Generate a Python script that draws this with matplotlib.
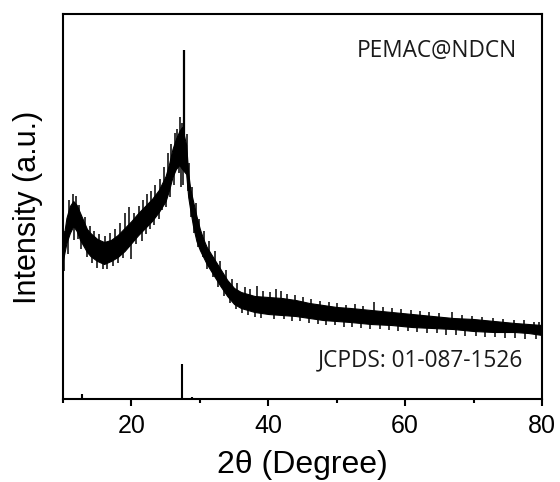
import numpy as np
import matplotlib
matplotlib.use("Agg")
import matplotlib.pyplot as plt
from matplotlib.ticker import MultipleLocator

# ---- data (intensity in arbitrary units) ----
# core of the noisy amorphous pattern (lower / upper edge)
two_theta = [10.0, 10.5, 11.0, 11.5, 12.0, 12.5, 13.0, 13.5, 14.0, 15.0, 16.0, 17.0,
             18.0, 19.0, 20.0, 21.0, 22.0, 23.0, 24.0, 25.0, 25.5, 26.0, 26.5, 27.0,
             27.4, 28.0, 28.3, 28.6, 29.0, 29.5, 30.0, 30.5, 31.0, 32.0, 33.0, 34.0,
             35.0, 36.0, 37.0, 38.0, 40.0, 42.0, 44.0, 46.0, 48.0, 50.0, 52.0, 55.0,
             58.0, 61.0, 64.0, 67.0, 70.0, 73.0, 76.0, 78.0, 80.0]
upper = [158, 181, 193, 198, 194, 186, 178, 170, 166, 160, 157, 159,
         164, 171, 178, 186, 193, 200, 209, 223, 235, 250, 260, 268,
         272, 254, 226, 210, 198, 183, 170, 160, 152, 141, 130, 119,
         111, 107, 105, 103, 102, 101, 99, 96, 94, 92, 91, 89,
         87, 85, 83, 81, 80, 78, 76, 75, 74]
lower = [139, 156, 166, 173, 168, 159, 153, 147, 143, 138, 135, 138,
         142, 148, 156, 164, 171, 178, 187, 198, 209, 222, 230, 234,
         230, 225, 202, 189, 173, 158, 149, 142, 135, 124, 113, 103,
         95, 91, 89, 87, 85, 84, 83, 81, 79, 78, 77, 75,
         74, 72, 71, 70, 68, 67, 67, 66, 64]

# noise spikes above the core (position, tip)
up_pos = [10.2, 10.9, 11.4, 11.9, 12.4, 13.2, 13.9, 14.6, 15.3, 16.2, 16.9, 17.6,
          18.4, 19.1, 19.7, 20.4, 21.1, 21.7, 22.3, 22.9, 23.5, 24.2, 24.8, 25.4,
          25.8, 26.3, 26.7, 27.1, 27.35, 28.05, 28.4, 28.9, 29.4, 29.9, 30.6, 31.3,
          32.2, 33.0, 33.8, 34.7, 35.5, 36.6, 37.4, 38.4, 39.2, 40.3, 41.1, 41.9,
          42.8, 43.9, 45.1, 46.3, 47.5, 48.8, 50.1, 51.4, 52.6, 53.9, 55.4, 56.7,
          58.1, 59.4, 60.8, 62.1, 63.5, 64.9, 66.8, 68.3, 69.7, 71.2, 72.8, 74.3,
          75.9, 77.4, 78.9, 79.6]
up_tip = [168, 199, 205, 203, 194, 182, 173, 168, 165, 163, 166, 170,
          176, 186, 192, 186, 193, 199, 205, 208, 214, 220, 232, 246,
          255, 266, 270, 282, 276, 265, 236, 212, 196, 180, 168, 158,
          148, 138, 129, 120, 116, 112, 110, 113, 108, 107, 110, 108,
          105, 104, 102, 100, 98, 97, 96, 94, 95, 93, 97, 92,
          91, 90, 89, 88, 87, 86, 87, 84, 83, 82, 81, 80,
          79, 79, 77, 77]
# noise spikes below the core (position, tip)
dn_pos = [10.1, 10.7, 11.6, 12.2, 12.7, 13.5, 14.3, 15.0, 15.8, 16.5, 17.3, 18.0,
          18.8, 19.9, 20.7, 21.5, 22.1, 22.7, 23.3, 24.0, 24.5, 25.1, 25.7, 26.2,
          26.9, 27.25, 27.55, 28.2, 28.7, 29.2, 29.8, 30.4, 31.1, 31.9, 32.7, 33.6,
          34.4, 35.3, 36.2, 37.0, 38.0, 39.0, 40.8, 42.3, 43.5, 44.7, 46.0, 47.2,
          48.5, 49.8, 51.0, 52.3, 53.6, 54.9, 56.3, 57.6, 59.0, 60.4, 61.8, 63.2,
          64.6, 66.0, 67.4, 68.8, 70.3, 71.7, 73.2, 74.6, 76.1, 77.5, 79.1]
dn_tip = [128, 145, 159, 160, 150, 142, 136, 131, 130, 130, 133, 136,
          141, 140, 155, 158, 165, 170, 174, 180, 189, 192, 202, 214,
          226, 212, 214, 208, 182, 166, 152, 142, 130, 122, 112, 103,
          96, 90, 86, 84, 82, 81, 80, 80, 78, 78, 76, 75,
          74, 74, 72, 72, 71, 70, 70, 69, 68, 68, 67, 66,
          66, 64, 64, 63, 63, 62, 62, 61, 61, 60, 60]

# sharp crystalline reflection
sharp_pos = 27.75
sharp_top = 349
sharp_base = 230

# JCPDS 01-087-1526 reference lines
ref_pos = [12.8, 27.45, 28.9, 44.1]
ref_int = [5, 35, 2.5, 1.5]

# ---- figure ----
fig = plt.figure(figsize=(5.6, 4.82), dpi=100)
ax = fig.add_axes([63/560, 1-399/482, (542-63)/560, (399-14)/482])

ax.fill_between(two_theta, lower, upper, color="black", linewidth=0.8, edgecolor="black")
mid = (np.asarray(upper) + np.asarray(lower)) / 2
ax.vlines(up_pos, np.interp(up_pos, two_theta, mid), up_tip, color="black", linewidth=1.1)
ax.vlines(dn_pos, dn_tip, np.interp(dn_pos, two_theta, mid), color="black", linewidth=1.1)
ax.vlines([sharp_pos], [sharp_base], [sharp_top], color="black", linewidth=1.6)
ax.vlines(ref_pos, 0, ref_int, color="black", linewidth=1.5)

ax.set_xlim(10, 80)
ax.set_ylim(0, 385)
ax.xaxis.set_major_locator(MultipleLocator(20))
ax.xaxis.set_minor_locator(MultipleLocator(10))
ax.tick_params(axis="x", which="major", direction="out", length=5, width=1.5,
               labelsize=18, pad=6)
ax.tick_params(axis="x", which="minor", direction="out", length=3, width=1.5)
ax.set_yticks([])
for s in ax.spines.values():
    s.set_linewidth(1.5)
for lab in ax.get_xticklabels():
    lab.set_fontfamily("Liberation Sans")

fig.text(302/560, 1-465/482, "2θ (Degree)", fontsize=23, family="Liberation Sans",
         ha="center", va="center")
fig.text(28/560, 1-207/482, "Intensity (a.u.)", fontsize=22, family="Liberation Sans",
         ha="center", va="center", rotation=90)

ax.text(0.948, 0.904, "PEMAC@NDCN", transform=ax.transAxes, ha="right", va="center",
        fontsize=16.3, family="Open Sans", color="#1a1a1a")
ax.text(0.960, 0.101, "JCPDS: 01-087-1526", transform=ax.transAxes, ha="right", va="center",
        fontsize=16.3, family="Open Sans", color="#1a1a1a")

fig.savefig("out.png", dpi=100)
